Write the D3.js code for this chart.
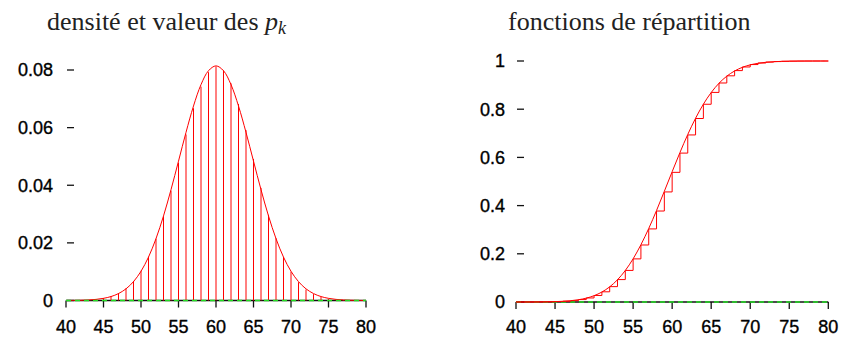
<!DOCTYPE html>
<html>
<head>
<meta charset="utf-8">
<script src="https://cdnjs.cloudflare.com/ajax/libs/d3/7.8.5/d3.min.js"></script>
<style>
  body { margin: 0; background: #fff; }
  svg { display: block; }
  .tick-label { font-family: "Liberation Sans", Arial, sans-serif; font-size: 18px; fill: #000; stroke: #000; stroke-width: 0.35px; }
  .title { font-family: "Liberation Serif", "Times New Roman", serif; font-size: 26px; fill: #222; }
</style>
</head>
<body>
<script>
'use strict';

// values k of the law
const ks = d3.range(40, 81);

// p_k (k = 40..80)
const pk = [
  0.00002, 0.00005, 0.00011, 0.00023, 0.00044, 0.00083, 0.00149, 0.00256, 0.00425, 0.00676,
  0.01034, 0.01520, 0.02149, 0.02919, 0.03811, 0.04781, 0.05763, 0.06673, 0.07421, 0.07924,
  0.08122, 0.07989, 0.07538, 0.06820, 0.05914, 0.04913, 0.03908, 0.02975, 0.02166, 0.01507,
  0.01001, 0.00634, 0.00383, 0.00221, 0.00121, 0.00063, 0.00031, 0.00015, 0.00006, 0.00003,
  0.00001
];

// density curve, read at each k
const density = [
  0.00002, 0.00004, 0.00010, 0.00020, 0.00039, 0.00075, 0.00137, 0.00241, 0.00405, 0.00655,
  0.01014, 0.01506, 0.02147, 0.02934, 0.03847, 0.04837, 0.05835, 0.06751, 0.07492, 0.07975,
  0.08143, 0.07975, 0.07492, 0.06751, 0.05835, 0.04837, 0.03847, 0.02934, 0.02147, 0.01506,
  0.01014, 0.00655, 0.00405, 0.00241, 0.00137, 0.00075, 0.00039, 0.00020, 0.00010, 0.00004,
  0.00002
];

// step cdf F(k)
const cdfSteps = [
  0.00004, 0.00010, 0.00021, 0.00044, 0.00088, 0.00171, 0.00320, 0.00576, 0.01001, 0.01676,
  0.02710, 0.04230, 0.06379, 0.09298, 0.13109, 0.17890, 0.23653, 0.30326, 0.37747, 0.45671,
  0.53793, 0.61782, 0.69320, 0.76140, 0.82054, 0.86967, 0.90875, 0.93850, 0.96016, 0.97523,
  0.98524, 0.99159, 0.99542, 0.99763, 0.99883, 0.99946, 0.99977, 0.99992, 0.99998, 0.99999,
  1.00000
];

// continuous cdf curve, read at each k
const cdfCurve = [
  0.00003, 0.00008, 0.00018, 0.00038, 0.00078, 0.00154, 0.00293, 0.00536, 0.00950, 0.01600,
  0.02620, 0.04140, 0.06290, 0.09230, 0.13080, 0.17920, 0.23750, 0.30490, 0.37970, 0.45940,
  0.54060, 0.62030, 0.69510, 0.76250, 0.82080, 0.86920, 0.90770, 0.93710, 0.95860, 0.97380,
  0.98400, 0.99050, 0.99464, 0.99707, 0.99846, 0.99922, 0.99962, 0.99982, 0.99992, 0.99997,
  0.99999
];

// tick values
const xTicks = [40, 45, 50, 55, 60, 65, 70, 75, 80];
const yTicksLeft = [0, 0.02, 0.04, 0.06, 0.08];
const yTicksRight = [0, 0.2, 0.4, 0.6, 0.8, 1];

const svg = d3.select('body').append('svg')
  .attr('width', 843)
  .attr('height', 337);

// draw bottom axis line, ticks and labels
function drawXAxis(x, y0, labelY) {
  const g = svg.append('g');
  g.append('line')
    .attr('x1', x(40)).attr('x2', x(80))
    .attr('y1', y0).attr('y2', y0)
    .attr('stroke', '#111').attr('stroke-width', 1.3);
  g.selectAll('.xt').data(xTicks).enter().append('line')
    .attr('x1', d => x(d)).attr('x2', d => x(d))
    .attr('y1', y0).attr('y2', y0 + 7)
    .attr('stroke', '#111').attr('stroke-width', 1.3);
  g.selectAll('.xl').data(xTicks).enter().append('text')
    .attr('class', 'tick-label')
    .attr('x', d => x(d))
    .attr('y', labelY)
    .attr('text-anchor', 'middle')
    .text(d => d);
}

// draw left ticks (pointing inward, no axis line) and labels
function drawYAxis(x, y, ticks, labelRight, fmt) {
  const g = svg.append('g');
  g.selectAll('.yt').data(ticks).enter().append('line')
    .attr('x1', x(40) + 1).attr('x2', x(40) + 8)
    .attr('y1', d => y(d)).attr('y2', d => y(d))
    .attr('stroke', '#111').attr('stroke-width', 1.3);
  g.selectAll('.yl').data(ticks).enter().append('text')
    .attr('class', 'tick-label')
    .attr('x', labelRight)
    .attr('y', d => y(d))
    .attr('dy', '0.36em')
    .attr('text-anchor', 'end')
    .text(fmt);
}

// green dashed zero line
function zeroLine(x, y) {
  svg.append('line')
    .attr('x1', x(40)).attr('x2', x(80))
    .attr('y1', y(0)).attr('y2', y(0))
    .attr('stroke', '#22dd22').attr('stroke-width', 1.3)
    .attr('stroke-dasharray', '5,4');
}

// ---- left panel: density and p_k ----
function leftPanel() {
  const x = d3.scaleLinear().domain([40, 80]).range([66, 366]);
  const y = d3.scaleLinear().domain([0, 0.08]).range([300.5, 70]);

  drawXAxis(x, 300.5, 332.5);
  drawYAxis(x, y, yTicksLeft, 53, d => d === 0 ? '0' : d3.format('.2f')(d));

  // sticks
  svg.selectAll('.stick').data(ks).enter().append('line')
    .attr('x1', d => x(d)).attr('x2', d => x(d))
    .attr('y1', y(0)).attr('y2', (d, i) => y(pk[i]))
    .attr('stroke', '#ff0000').attr('stroke-width', 1);

  // density curve
  const line = d3.line()
    .x((d, i) => x(ks[i]))
    .y(d => y(d))
    .curve(d3.curveCatmullRom);
  svg.append('path')
    .datum(density)
    .attr('d', line)
    .attr('fill', 'none')
    .attr('stroke', '#ff0000').attr('stroke-width', 1);

  zeroLine(x, y);

  const t = svg.append('text').attr('class', 'title').attr('x', 47).attr('y', 30);
  t.append('tspan').text('densité et valeur des ');
  t.append('tspan').attr('font-style', 'italic').text('p');
  t.append('tspan').attr('font-style', 'italic').attr('font-size', '18px').attr('dy', 4).text('k');
}

// ---- right panel: distribution functions ----
function rightPanel() {
  const x = d3.scaleLinear().domain([40, 80]).range([516, 828.3]);
  const y = d3.scaleLinear().domain([0, 1]).range([302, 61]);

  drawXAxis(x, 302, 333);
  drawYAxis(x, y, yTicksRight, 505, d => d);

  zeroLine(x, y);

  // step cdf
  const steps = d3.line()
    .x((d, i) => x(ks[i]))
    .y(d => y(d))
    .curve(d3.curveStepAfter);
  svg.append('path')
    .datum(cdfSteps)
    .attr('d', steps)
    .attr('fill', 'none')
    .attr('stroke', '#ff0000').attr('stroke-width', 1);

  // continuous cdf
  const curve = d3.line()
    .x((d, i) => x(ks[i]))
    .y(d => y(d))
    .curve(d3.curveCatmullRom);
  svg.append('path')
    .datum(cdfCurve)
    .attr('d', curve)
    .attr('fill', 'none')
    .attr('stroke', '#ff0000').attr('stroke-width', 1);

  svg.append('text').attr('class', 'title')
    .attr('x', 508).attr('y', 30)
    .text('fonctions de répartition');
}

leftPanel();
rightPanel();
</script>
</body>
</html>
